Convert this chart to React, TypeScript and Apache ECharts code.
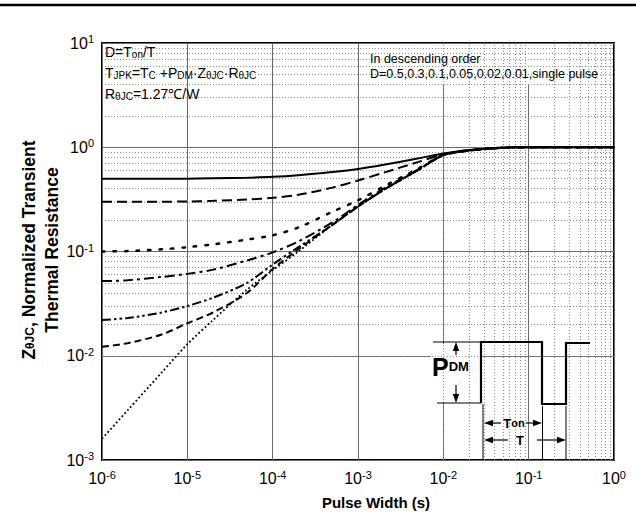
import React, { useEffect, useRef } from 'react';
import * as echarts from 'echarts';

const FONT = 'Arial, "Liberation Sans", sans-serif';

// Pulse width (s)
const pulseWidth = [1e-6, 2e-6, 5e-6, 1e-5, 2e-5, 5e-5, 1e-4, 2e-4, 5e-4, 1e-3, 2e-3, 5e-3, 1e-2, 2e-2, 5e-2, 1e-1, 2e-1, 5e-1, 1];

// Normalized transient thermal resistance for each duty cycle
const zD05 = [0.5, 0.5, 0.5, 0.5, 0.503, 0.51, 0.52, 0.54, 0.58, 0.62, 0.68, 0.78, 0.87, 0.94, 0.99, 1, 1, 1, 1];
const zD03 = [0.3, 0.3, 0.3, 0.302, 0.306, 0.315, 0.327, 0.35, 0.41, 0.48, 0.57, 0.72, 0.85, 0.93, 0.99, 1, 1, 1, 1];
const zD01 = [0.1, 0.101, 0.105, 0.11, 0.117, 0.13, 0.143, 0.17, 0.24, 0.31, 0.42, 0.62, 0.84, 0.93, 0.99, 1, 1, 1, 1];
const zD005 = [0.052, 0.053, 0.057, 0.061, 0.067, 0.082, 0.098, 0.125, 0.19, 0.28, 0.4, 0.61, 0.84, 0.93, 0.99, 1, 1, 1, 1];
const zD002 = [0.022, 0.023, 0.026, 0.03, 0.036, 0.05, 0.075, 0.11, 0.18, 0.27, 0.39, 0.6, 0.84, 0.93, 0.99, 1, 1, 1, 1];
const zD001 = [0.0122, 0.0132, 0.016, 0.0205, 0.026, 0.04, 0.068, 0.105, 0.18, 0.27, 0.39, 0.6, 0.84, 0.93, 0.99, 1, 1, 1, 1];
const zSingle = [0.0016, 0.003, 0.0069, 0.0129, 0.022, 0.043, 0.066, 0.1, 0.18, 0.27, 0.39, 0.6, 0.84, 0.93, 0.99, 1, 1, 1, 1];

const seriesNames = ['D=0.5', 'D=0.3', 'D=0.1', 'D=0.05', 'D=0.02', 'D=0.01', 'single pulse'];
const seriesValues = [zD05, zD03, zD01, zD005, zD002, zD001, zSingle];
const seriesDash: any[] = ['solid', [10, 5], [2.5, 9], [10, 4, 3, 4], [9, 3, 2.5, 3, 2.5, 3], [7, 4], [1.8, 2.4]];
const seriesWidth = [2, 2, 2.5, 2, 2, 2, 1.8];

// axis ranges (decades)
const xDecades = [-6, -5, -4, -3, -2, -1];
const yDecades = [-3, -2, -1, 0];
const minorMultipliers = [2, 3, 4, 5, 6, 7, 8, 9];

function arrowHead(tx: number, ty: number, dir: string) {
  const L = 9, W = 3.2;
  let pts: number[][];
  if (dir === 'left') pts = [[tx, ty], [tx + L, ty - W], [tx + L, ty + W]];
  else if (dir === 'right') pts = [[tx, ty], [tx - L, ty - W], [tx - L, ty + W]];
  else if (dir === 'up') pts = [[tx, ty], [tx - W, ty + L], [tx + W, ty + L]];
  else pts = [[tx, ty], [tx - W, ty - L], [tx + W, ty - L]];
  return { type: 'polygon', z: 20, shape: { points: pts }, style: { fill: '#000' } };
}
function seg(x1: number, y1: number, x2: number, y2: number, w = 1, color = '#000') {
  return { type: 'line', z: 20, shape: { x1, y1, x2, y2 }, style: { stroke: color, lineWidth: w } };
}

export default function App() {
  const ref = useRef<HTMLDivElement>(null);
  useEffect(() => {
    const chart = echarts.init(ref.current!, null, { renderer: 'svg' });

    const minorLines: any[] = [];
    xDecades.forEach((d) => minorMultipliers.forEach((m) => minorLines.push({ xAxis: m * Math.pow(10, d) })));
    yDecades.forEach((d) => minorMultipliers.forEach((m) => minorLines.push({ yAxis: m * Math.pow(10, d) })));

    const supFormatter = (v: number) => `{b|10}{s|${Math.round(Math.log10(v))}}`;
    const labelRich = {
      b: { fontSize: 16, fontFamily: FONT, color: '#000' },
      s: { fontSize: 11, fontFamily: FONT, color: '#000', padding: [0, 0, 8, 0] },
    };

    const curveSeries = seriesNames.map((name, i) => ({
      name,
      type: 'line',
      z: 5,
      showSymbol: false,
      symbol: 'none',
      smooth: 0.3,
      silent: true,
      data: pulseWidth.map((x, j) => [x, seriesValues[i][j]]),
      lineStyle: { color: '#000', width: seriesWidth[i], type: seriesDash[i], cap: i === 2 ? 'round' : 'butt' },
    }));

    const subRich = {
      m: { fontSize: 14, fontFamily: FONT, color: '#000', padding: [0, 0, 4, 0] },
      s: { fontSize: 10, fontFamily: FONT, color: '#000' },
      M: { fontSize: 14, fontFamily: FONT, color: '#000', padding: [0, 0, 4, 0] },
      S: { fontSize: 10, fontFamily: FONT, color: '#000' },
    };

    const option: any = {
      animation: false,
      backgroundColor: '#fff',
      grid: { left: 102, right: 22, top: 43, bottom: 70, show: true, borderColor: '#000', borderWidth: 2, backgroundColor: 'transparent' },
      xAxis: {
        type: 'log',
        logBase: 10,
        min: 1e-6,
        max: 1,
        splitNumber: 6,
        axisLine: { show: false },
        axisTick: { show: false },
        axisLabel: { formatter: supFormatter, rich: labelRich, margin: 9 },
        splitLine: { show: true, lineStyle: { color: '#6a6a6a', width: 1 } },
      },
      yAxis: {
        type: 'log',
        logBase: 10,
        min: 1e-3,
        max: 10,
        splitNumber: 4,
        axisLine: { show: false },
        axisTick: { show: false },
        axisLabel: { formatter: supFormatter, rich: labelRich, margin: 8 },
        splitLine: { show: true, lineStyle: { color: '#6a6a6a', width: 1 } },
      },
      series: [
        {
          type: 'line',
          z: 1,
          silent: true,
          data: [[1e-6, 1e-3]],
          symbol: 'none',
          lineStyle: { opacity: 0 },
          markLine: {
            silent: true,
            symbol: ['none', 'none'],
            label: { show: false },
            emphasis: { disabled: true },
            animation: false,
            lineStyle: { color: '#8a8a8a', type: [1, 2], width: 1 },
            data: minorLines,
          },
        },
        ...curveSeries,
      ],
      graphic: [
        // top rule of the page
        seg(0, 5, 636, 5, 2.5),
        // white box behind top-right note
        { type: 'rect', z: 3, shape: { x: 362, y: 44, width: 251, height: 40 }, style: { fill: '#fff' } },
        {
          type: 'text', z: 20, x: 370, y: 59,
          style: { text: 'In descending order', font: `12.5px ${FONT}`, fill: '#000', verticalAlign: 'middle' },
        },
        {
          type: 'text', z: 20, x: 370, y: 74,
          style: { text: 'D=0.5,0.3,0.1,0.05,0.02,0.01,single pulse', font: `12.5px ${FONT}`, fill: '#000', verticalAlign: 'middle' },
        },
        // top-left notes
        {
          type: 'text', z: 20, x: 105, y: 45,
          style: { text: '{m|D=T}{s|on}{m|/T}', rich: subRich, verticalAlign: 'top' },
        },
        {
          type: 'text', z: 20, x: 105, y: 66,
          style: { text: '{m|T}{s|JPK}{m|=T}{s|C}{m| +P}{s|DM}{m|·Z}{s|θJC}{m|·R}{s|θJC}', rich: subRich, verticalAlign: 'top' },
        },
        {
          type: 'text', z: 20, x: 105, y: 87,
          style: { text: '{M|R}{S|θJC}{M|=1.27℃/W}', rich: subRich, verticalAlign: 'top' },
        },
        // axis titles
        {
          type: 'text', z: 20, x: 30, y: 250, rotation: Math.PI / 2,
          style: {
            text: '{z|Z}{zs|θJC}{z|, Normalized Transient}',
            rich: {
              z: { fontSize: 17.5, fontWeight: 'bold', fontFamily: FONT, color: '#000', padding: [0, 0, 2, 0] },
              zs: { fontSize: 12, fontWeight: 'bold', fontFamily: FONT, color: '#000' },
            },
            align: 'center', verticalAlign: 'middle',
          },
        },
        {
          type: 'text', z: 20, x: 52, y: 250, rotation: Math.PI / 2,
          style: { text: 'Thermal Resistance', font: `bold 17.5px ${FONT}`, fill: '#000', align: 'center', verticalAlign: 'middle' },
        },
        {
          type: 'text', z: 20, x: 376, y: 502,
          style: { text: 'Pulse Width (s)', font: `bold 15px ${FONT}`, fill: '#000', align: 'center', verticalAlign: 'middle' },
        },
        // pulse diagram
        { type: 'rect', z: 3, shape: { x: 431, y: 344, width: 49, height: 58 }, style: { fill: '#fff' } },
        {
          type: 'polyline', z: 20,
          shape: { points: [[481, 403], [481, 342], [542, 342], [542, 404], [566, 404], [566, 343], [590, 343]] },
          style: { stroke: '#000', lineWidth: 2.2, fill: 'none' },
        },
        seg(433, 342, 481, 342, 1),
        seg(437, 403, 481, 403, 1),
        seg(456, 350, 456, 355, 1.2),
        arrowHead(456, 342, 'up'),
        seg(456, 385, 456, 395, 1.2),
        arrowHead(456, 403, 'down'),
        {
          type: 'text', z: 20, x: 432, y: 379,
          style: {
            text: '{p|P}{d|DM}',
            rich: {
              p: { fontSize: 25, fontWeight: 'bold', fontFamily: FONT, color: '#000' },
              d: { fontSize: 13, fontWeight: 'bold', fontFamily: FONT, color: '#000', padding: [0, 0, 1, 0] },
            },
            verticalAlign: 'bottom',
          },
        },
        seg(483, 404, 483, 460, 1),
        seg(542.5, 406, 542.5, 460, 1),
        seg(566, 406, 566, 460, 1),
        arrowHead(484, 423, 'left'),
        seg(490, 423, 501, 423, 1.2),
        {
          type: 'text', z: 20, x: 514, y: 423,
          style: {
            text: '{t|T}{o|on}',
            rich: {
              t: { fontSize: 13, fontWeight: 'bold', fontFamily: FONT, color: '#000' },
              o: { fontSize: 11, fontWeight: 'bold', fontFamily: FONT, color: '#000' },
            },
            align: 'center', verticalAlign: 'middle',
          },
        },
        seg(526, 423, 535, 423, 1.2),
        arrowHead(542, 423, 'right'),
        arrowHead(484, 440, 'left'),
        seg(490, 440, 508, 440, 1.2),
        {
          type: 'text', z: 20, x: 520, y: 440,
          style: { text: 'T', font: `bold 13px ${FONT}`, fill: '#000', align: 'center', verticalAlign: 'middle' },
        },
        seg(537, 440, 559, 440, 1.2),
        arrowHead(566, 440, 'right'),
      ],
    };

    chart.setOption(option);
    return () => chart.dispose();
  }, []);
  return <div ref={ref} style={{ position: 'absolute', left: 0, top: 0, width: 636, height: 530 }} />;
}
